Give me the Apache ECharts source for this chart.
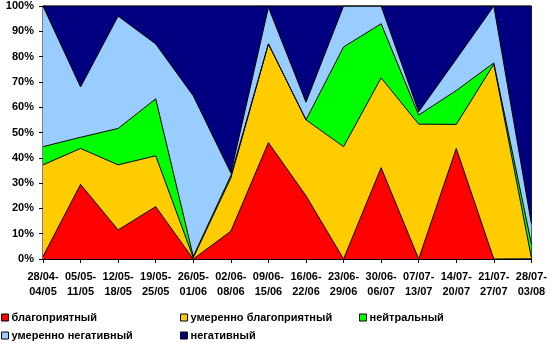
<!DOCTYPE html>
<html>
<head>
<meta charset="utf-8">
<script src="https://cdn.jsdelivr.net/npm/echarts@6/dist/echarts.min.js"></script>
<style>
html,body{margin:0;padding:0;background:#fff;}
#chart{width:550px;height:343px;}
</style>
</head>
<body>
<div id="chart"></div>
<script>
const categories = ["28/04-04/05","05/05-11/05","12/05-18/05","19/05-25/05","26/05-01/06","02/06-08/06","09/06-15/06","16/06-22/06","23/06-29/06","30/06-06/07","07/07-13/07","14/07-20/07","21/07-27/07","28/07-03/08"];
const seriesNames = ["благоприятный","умеренно благоприятный","нейтральный","умеренно негативный","негативный"];
const favorable      = [1, 29.5, 11.5, 20.7, 0, 11, 46, 25, 0, 36.1, 0, 43.7, 0, 0];
const modFavorable   = [36.2, 14.2, 25.7, 20.1, 0.5, 21, 39, 30, 44.4, 35.5, 53.3, 9.5, 77, 0.5];
const neutral        = [7.2, 4.4, 14.4, 22.5, 0.5, 1, 0, 0, 39.4, 21.4, 3.6, 13.4, 0.5, 5.5];
const modNegative    = [55.6, 19.9, 44.4, 21.7, 63.5, 1, 14.5, 7, 16.2, 7, 1.3, 12.4, 22.5, 8];
const negative       = [0, 32, 4, 15, 35.5, 66, 0.5, 38, 0, 0, 41.8, 21, 0, 86];
const yTicks = [0,10,20,30,40,50,60,70,80,90,100];

const colors = ["#FF0000","#FFCC00","#00FF00","#99CCFF","#000080"];
const dataSets = [favorable, modFavorable, neutral, modNegative, negative];
const font = "'Liberation Sans', Arial, sans-serif";

const chart = echarts.init(document.getElementById('chart'), null, {renderer:'canvas'});

const legendPos = [
  {left: 1, top: 312}, {left: 180, top: 312}, {left: 359, top: 312},
  {left: 1, top: 330}, {left: 180, top: 330}
];

const option = {
  animation: false,
  color: colors,
  grid: {left: 43, right: 16, top: 6, bottom: 84, show: true, borderColor: '#000', borderWidth: 1, backgroundColor: 'transparent'},
  legend: seriesNames.map((n, i) => ({
    data: [n],
    left: legendPos[i].left,
    top: legendPos[i].top,
    padding: 0,
    icon: 'rect',
    itemWidth: 7,
    itemHeight: 7,
    itemStyle: {borderColor: '#000', borderWidth: 1},
    textStyle: {fontFamily: font, fontSize: 11, fontWeight: 'bold', color: '#000', padding: [0,0,0,-2]}
  })),
  xAxis: {
    type: 'category',
    data: categories,
    boundaryGap: false,
    axisLine: {lineStyle: {color: '#000', width: 1}},
    axisTick: {show: true, alignWithLabel: true, length: 4, lineStyle: {color: '#000'}, interval: 0},
    axisLabel: {
      interval: 0, margin: 10, color: '#000', fontFamily: font, fontSize: 11, fontWeight: 'bold', lineHeight: 15,
      formatter: v => v.replace('-', '-\n')
    },
    splitLine: {show: false}
  },
  yAxis: {
    type: 'value',
    min: yTicks[0], max: yTicks[yTicks.length-1], interval: 10,
    axisLine: {show: true, lineStyle: {color: '#000', width: 1}},
    axisTick: {show: true, length: 4, lineStyle: {color: '#000'}},
    axisLabel: {margin: 9, color: '#000', fontFamily: font, fontSize: 11, fontWeight: 'bold', formatter: '{value}%'},
    splitLine: {show: false}
  },
  series: dataSets.map((d, i) => ({
    name: seriesNames[i],
    type: 'line',
    stack: 'total',
    data: d,
    symbol: 'none',
    lineStyle: {color: '#000', width: 1},
    areaStyle: {color: colors[i], opacity: 1},
    itemStyle: {color: colors[i]},
    z: 2
  }))
};
chart.setOption(option);
</script>
</body>
</html>
